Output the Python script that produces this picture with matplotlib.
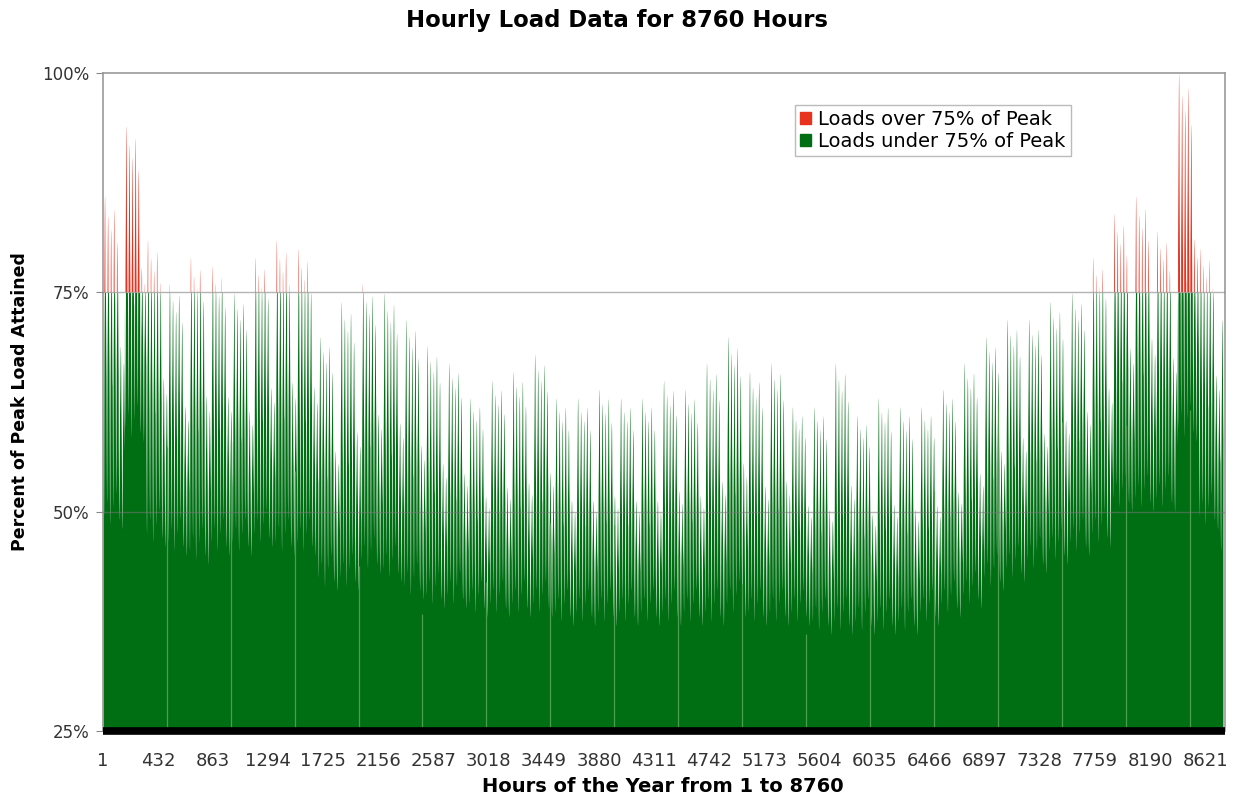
import numpy as np
import matplotlib
matplotlib.use("Agg")
import matplotlib.pyplot as plt
from matplotlib.patches import Patch


# Daily peak of each week (percent of annual peak).
weekly_peak = [86, 94, 81, 76, 79, 78, 75, 79, 81, 80,
               70, 74, 76, 75, 72, 69, 67, 63, 65, 66,
               68, 63, 63, 64, 63, 63, 65, 64, 67, 70,
               66, 67, 62, 62, 67, 61, 63, 62, 62, 64,
               67, 70, 72, 72, 74, 75, 79, 84, 86, 82,
               100, 80, 72]

# Night-time minimum of each week (percent of peak).
weekly_low = [48, 58, 46, 45, 44, 45, 45, 46, 45, 45,
              41, 41, 43, 42, 40, 39, 39, 38, 38, 38,
              38, 37, 37, 37, 37, 37, 37, 37, 37, 38,
              37, 37, 37, 36, 36, 36, 36, 36, 37, 38,
              39, 41, 42, 43, 44, 45, 46, 50, 50, 50,
              58, 48, 44]

# How far each day of the week climbs toward the weekly peak.
day_share = [1.0, 0.94, 0.9, 0.96, 0.86, 0.55, 0.5]
# Night low of each weekday above the weekly minimum.
day_low_lift = [1.5, 3.0, 0.5, 2.5, 4.0, 1.0, 0.0]

# Shape of a typical day, 0 = night low, 1 = afternoon peak.
hour_shape = [0.42, 0.3, 0.18, 0.08, 0.02, 0.0, 0.12, 0.35, 0.5, 0.58, 0.64, 0.7,
              0.76, 0.84, 0.92, 0.97, 1.0, 0.99, 0.94, 0.82, 0.68, 0.6, 0.53, 0.47]

tick_hours = [1, 432, 863, 1294, 1725, 2156, 2587, 3018, 3449, 3880, 4311,
              4742, 5173, 5604, 6035, 6466, 6897, 7328, 7759, 8190, 8621]

THRESHOLD = 75
GREEN = "#006f14"
RED = "#e8321e"


def build_load():
    load = []
    for h in range(8760):
        week = h // 168
        day = (h // 24) % 7
        low = weekly_low[week] + day_low_lift[day]
        top = weekly_low[week] + (weekly_peak[week] - weekly_low[week]) * day_share[day]
        load.append(low + (top - low) * hour_shape[h % 24])
    return np.array(load)


hours = np.arange(1, 8761)
load = build_load()
under = np.minimum(load, THRESHOLD)

fig = plt.figure(figsize=(12.33, 7.97), dpi=100)
ax = fig.add_axes([0.0835, 0.0828, 0.91, 0.8256])

ax.fill_between(hours, 25, under, color=GREEN, lw=0, zorder=2)
ax.fill_between(hours, THRESHOLD, load, where=load > THRESHOLD,
                color=RED, lw=0, zorder=2)

# faint seams every 500 hours inside the solid area
seams = np.arange(500, 8760, 500)
ax.vlines(seams, 25, load[seams - 1] - 3, color="#4c9c52", lw=0.9, zorder=3)

for v in (50, 75):
    ax.axhline(v, color="#777777", lw=1, alpha=0.55, zorder=4)
ax.axhline(25, color="black", lw=5.5, zorder=5, clip_on=False, solid_capstyle="butt")

ax.set_xlim(1, 8776)
ax.set_ylim(25, 100)
ax.set_yticks([25, 50, 75, 100])
ax.set_yticklabels(["25%", "50%", "75%", "100%"])
ax.set_xticks(tick_hours)
ax.set_xticklabels([str(t) for t in tick_hours])
ax.tick_params(axis="y", length=5, color="#888888", pad=5, labelsize=12, labelcolor="#333333")
ax.tick_params(axis="x", length=0, pad=15, labelsize=13, labelcolor="#333333")

for side in ("left", "top", "right"):
    ax.spines[side].set_color("#999999")
    ax.spines[side].set_linewidth(1.2)
ax.spines["bottom"].set_visible(False)

fig.text(0.5, 1 - 21 / 797, "Hourly Load Data for 8760 Hours",
         ha="center", va="center", fontsize=16.4, fontweight="bold")
fig.text(663 / 1233, 1 - 787 / 797, "Hours of the Year from 1 to 8760",
         ha="center", va="center", fontsize=14, fontweight="bold")
ax.set_ylabel("Percent of Peak Load Attained", fontsize=12.5, fontweight="bold", labelpad=9)

handles = [Patch(color=RED, label="Loads over 75% of Peak"),
           Patch(color=GREEN, label="Loads under 75% of Peak")]
ax.legend(handles=handles, loc="upper left", bbox_to_anchor=(0.6168, 0.951),
          fontsize=14, frameon=True, fancybox=False, edgecolor="#aaaaaa",
          handlelength=0.55, handleheight=0.55, handletextpad=0.4,
          borderpad=0.25, labelspacing=0.15, borderaxespad=0)

fig.savefig("out.png", dpi=100)
